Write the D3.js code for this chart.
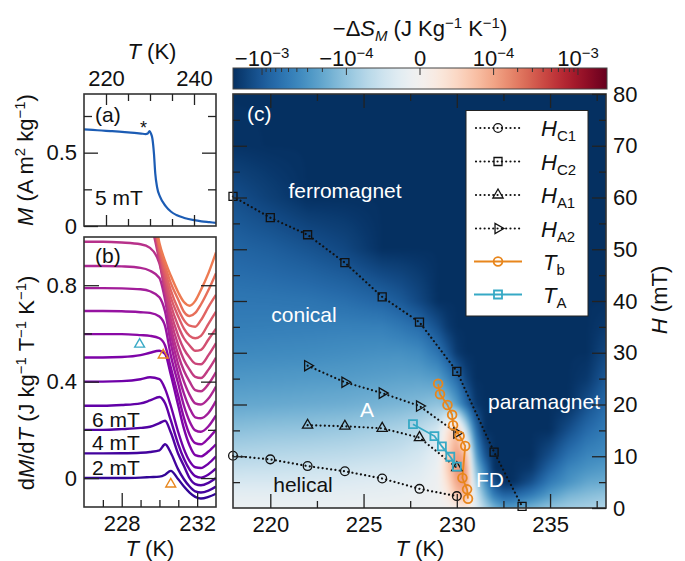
<!DOCTYPE html>
<html>
<head>
<meta charset="utf-8">
<script src="https://cdn.jsdelivr.net/npm/d3@7"></script>
<style>
  body { margin: 0; background: #fff; }
  svg { font-family: "Liberation Sans", Arial, Helvetica, sans-serif; }
</style>
</head>
<body>
<svg id="fig" width="685" height="561"></svg>
<script>
// ---------- panel (a): M(T) at 5 mT ----------
var magT = [215, 217, 219, 221, 223, 225, 227, 228, 229, 229.5, 229.9, 230.2, 230.55, 230.9, 231.2, 231.6, 232.3, 233.6, 234.8, 236, 237.8, 240, 241.7, 243.5, 245];
var magM = [0.659, 0.655, 0.651, 0.647, 0.643, 0.638, 0.633, 0.63, 0.627, 0.631, 0.647, 0.632, 0.595, 0.493, 0.357, 0.266, 0.198, 0.134, 0.097, 0.075, 0.055, 0.04, 0.032, 0.026, 0.021];

// ---------- panel (b): dM/dT curves, 2..36 mT, shown with 0.1 offsets ----------
var dmdtT = [226, 227, 228, 229, 229.5, 230, 230.3, 230.6, 231, 231.3, 231.6, 231.9, 232.2, 232.6, 233];
var dmdtFields = [2, 4, 6, 8, 10, 12, 14, 16, 18, 20, 22, 24, 26, 28, 30, 32, 34, 36];
var dmdtCurves = [
  [0, 0, 0, 0.002, 0.004, 0.006, 0.014, 0.03, -0.005, -0.035, -0.06, -0.078, -0.085, -0.078, -0.065],
  [0.1025, 0.1025, 0.103, 0.105, 0.108, 0.115, 0.14, 0.105, 0.035, -0.005, -0.035, -0.055, -0.06, -0.052, -0.035],
  [0.2, 0.2, 0.203, 0.208, 0.213, 0.228, 0.238, 0.19, 0.1, 0.05, 0.0, -0.025, -0.03, -0.02, 0.0],
  [0.3, 0.3, 0.303, 0.31, 0.322, 0.336, 0.31, 0.24, 0.14, 0.08, 0.035, 0.008, 0.002, 0.015, 0.04],
  [0.4, 0.4, 0.402, 0.41, 0.418, 0.41, 0.37, 0.3, 0.19, 0.12, 0.07, 0.045, 0.042, 0.06, 0.09],
  [0.5, 0.5, 0.502, 0.51, 0.52, 0.528, 0.515, 0.43, 0.3, 0.205, 0.135, 0.095, 0.09, 0.11, 0.14],
  [0.597, 0.597, 0.597, 0.593, 0.59, 0.58, 0.55, 0.46, 0.34, 0.25, 0.18, 0.145, 0.14, 0.165, 0.2],
  [0.693, 0.693, 0.692, 0.688, 0.685, 0.67, 0.63, 0.51, 0.39, 0.3, 0.235, 0.198, 0.192, 0.215, 0.26],
  [0.788, 0.788, 0.787, 0.783, 0.775, 0.75, 0.69, 0.56, 0.43, 0.35, 0.29, 0.252, 0.248, 0.27, 0.32],
  [0.88, 0.88, 0.878, 0.872, 0.86, 0.83, 0.74, 0.6, 0.47, 0.4, 0.345, 0.31, 0.305, 0.33, 0.38],
  [0.98, 0.98, 0.977, 0.97, 0.955, 0.89, 0.77, 0.63, 0.51, 0.445, 0.4, 0.365, 0.36, 0.39, 0.44],
  [1.075, 1.075, 1.072, 1.065, 1.05, 0.9, 0.78, 0.66, 0.55, 0.49, 0.45, 0.42, 0.415, 0.45, 0.5],
  [1.17, 1.17, 1.165, 1.15, 1.1, 0.915, 0.8, 0.69, 0.59, 0.535, 0.5, 0.475, 0.472, 0.51, 0.56],
  [1.26, 1.26, 1.25, 1.22, 1.14, 0.93, 0.82, 0.72, 0.63, 0.58, 0.55, 0.528, 0.532, 0.575, 0.62],
  [1.35, 1.35, 1.33, 1.26, 1.16, 0.94, 0.84, 0.75, 0.67, 0.62, 0.59, 0.58, 0.59, 0.64, 0.69],
  [1.44, 1.43, 1.4, 1.29, 1.17, 0.95, 0.86, 0.78, 0.7, 0.655, 0.632, 0.628, 0.655, 0.71, 0.76],
  [1.53, 1.52, 1.47, 1.32, 1.19, 0.96, 0.88, 0.81, 0.74, 0.69, 0.672, 0.685, 0.72, 0.78, 0.85],
  [1.62, 1.6, 1.53, 1.36, 1.22, 0.975, 0.9, 0.84, 0.77, 0.73, 0.715, 0.735, 0.78, 0.85, 0.936]
];
var dmdtLabelIdx = [0, 1, 2];
// transition markers in (b)
var bMarkT = [228.95, 230.2, 230.6];
var bMarkV = [0.555, 0.51, -0.025];
var bMarkC = ["#3aaac6", "#e8861c", "#e8861c"];

// ---------- panel (c): phase boundaries ----------
var hc1T = [218, 220, 222, 224, 226, 228, 230];
var hc1H = [10.1, 9.4, 8.1, 7.1, 5.7, 3.7, 2.3];
var hc2T = [218, 220, 222, 224, 226, 228, 230, 232, 233.5];
var hc2H = [60.2, 56.1, 52.8, 47.4, 40.8, 35.9, 26.4, 10.8, 0.3];
var ha1T = [222, 224, 226, 228, 230];
var ha1H = [16.0, 15.8, 15.4, 13.6, 7.8];
var ha2T = [222, 224, 226, 228, 230];
var ha2H = [27.5, 24.3, 22.2, 19.7, 14.5];
var tbT = [229.0, 229.1, 229.5, 229.75, 229.8, 230.15, 230.45, 230.3, 230.55, 230.6];
var tbH = [24.0, 22.0, 19.9, 18.0, 16.0, 13.9, 12.0, 5.8, 3.6, 1.8];
var taT = [227.65, 228.8, 229.2, 229.65, 230.0];
var taH = [16.2, 13.9, 11.9, 9.9, 8.0];

// -dS_M map, values in 1e-4 J kg^-1 K^-1, rows = heatH, cols = heatT
var heatT = [218, 220, 222, 224, 226, 227, 228, 229, 229.5, 230, 230.5, 231, 231.5, 232, 232.5, 233, 234, 235, 236, 237, 238];
var heatH = [0, 2.5, 5, 7.5, 10, 15, 20, 25, 30, 35, 40, 50, 60, 70, 80];
var heatV = [
  [-0.05, -0.05, -0.05, -0.05, -0.04, -0.04, -0.03, -0.02, 0, 0.05, 0.1, -0.1, -0.6, -1.5, -2.5, -2.5, -1.5, -1, -0.8, -0.7, -0.6],
  [-0.1, -0.1, -0.1, -0.09, -0.08, -0.07, -0.05, -0.03, 0.08, 0.5, 0.8, -0.2, -1.5, -5, -8, -8, -5, -2.5, -1.5, -1.2, -1],
  [-0.2, -0.2, -0.18, -0.16, -0.13, -0.12, -0.1, -0.03, 0.2, 1.0, 1.3, -0.5, -3, -12, -21, -21, -12, -5, -3, -2, -1.8],
  [-0.35, -0.33, -0.3, -0.27, -0.22, -0.2, -0.15, -0.05, 0.35, 1.3, 1.2, -1, -5, -21, -21, -21, -18, -8, -4, -3, -2.5],
  [-0.55, -0.5, -0.46, -0.42, -0.35, -0.3, -0.22, -0.08, 0.35, 1.2, 0.7, -2, -10, -21, -21, -21, -21, -12, -6, -4, -3.5],
  [-1.1, -1, -0.95, -0.85, -0.7, -0.6, -0.45, -0.22, 0.15, 0.6, -0.3, -6, -21, -21, -21, -21, -21, -21, -12, -7, -5],
  [-2, -1.9, -1.8, -1.7, -1.5, -1.4, -1.25, -1, -1.2, -2.5, -7, -18, -21, -21, -21, -21, -21, -21, -21, -12, -7],
  [-2.8, -2.7, -2.6, -2.5, -2.3, -2.2, -2.2, -2.5, -4, -7, -15, -21, -21, -21, -21, -21, -21, -21, -21, -18, -10],
  [-3.8, -3.7, -3.6, -3.4, -3.2, -3.2, -3.6, -6, -10, -18, -21, -21, -21, -21, -21, -21, -21, -21, -21, -21, -14],
  [-4.8, -4.7, -4.6, -4.5, -4.6, -5.5, -7, -12, -18, -21, -21, -21, -21, -21, -21, -21, -21, -21, -21, -21, -18],
  [-5.5, -5.6, -5.8, -6.5, -8, -10, -14, -21, -21, -21, -21, -21, -21, -21, -21, -21, -21, -21, -21, -21, -21],
  [-8, -9, -11, -14, -21, -21, -21, -21, -21, -21, -21, -21, -21, -21, -21, -21, -21, -21, -21, -21, -21],
  [-12, -16, -21, -21, -21, -21, -21, -21, -21, -21, -21, -21, -21, -21, -21, -21, -21, -21, -21, -21, -21],
  [-20, -21, -21, -21, -21, -21, -21, -21, -21, -21, -21, -21, -21, -21, -21, -21, -21, -21, -21, -21, -21],
  [-21, -21, -21, -21, -21, -21, -21, -21, -21, -21, -21, -21, -21, -21, -21, -21, -21, -21, -21, -21, -21]
];
// colour bar ticks, same units
var cbMajor = [-10, -1, 0, 1, 10];
var cbLabels = [["\u221210", "\u22123"], ["\u221210", "\u22124"], ["0", ""], ["10", "\u22124"], ["10", "\u22123"]];
var cbMinor = [-9, -8, -7, -6, -5, -4, -3, -2, 2, 3, 4, 5, 6, 7, 8, 9];

var ORANGE = "#e8861c", CYAN = "#36a9c5";
var svg = d3.select("#fig");

var xa = d3.scaleLinear().domain([215, 245]).range([84, 216]);
var ya = d3.scaleLinear().domain([0, 0.9]).range([226, 94]);
var xb = d3.scaleLinear().domain([226, 233]).range([84, 216]);
var yb = d3.scaleLinear().domain([-0.12, 1.0]).range([507, 237]);
var xc = d3.scaleLinear().domain([218, 238]).range([233, 606]);
var yc = d3.scaleLinear().domain([0, 80]).range([508, 94]);
var cb = d3.scaleSymlog().constant(0.18).domain([-21.2, 21.2]).range([233, 607]).clamp(true);
function cUnit(v) { return (cb(v) - 233) / 374; }

// rich text: parts = [text, {i, sup, sub}]
function rich(sel, parts) {
  var shift = 0;
  parts.forEach(function (p) {
    var o = p[1] || {};
    var target = o.sup ? -8 : o.sub ? 5 : 0;
    var t = sel.append("tspan").text(p[0]);
    if (target !== shift) { t.attr("dy", target - shift); shift = target; }
    if (o.i) t.attr("font-style", "italic");
    if (o.sup || o.sub) t.attr("font-size", "0.68em");
  });
  return sel;
}
function text(x, y, size, parts, anchor, color, rot) {
  var t = svg.append("text").attr("font-size", size).attr("fill", color || "#111")
    .attr("text-anchor", anchor || "middle");
  if (rot) t.attr("transform", "translate(" + x + "," + y + ") rotate(" + rot + ")");
  else t.attr("x", x).attr("y", y);
  return rich(t, parts);
}

function axis(gen, scale, vals, len, fmt, tr, pad) {
  var a = gen(scale).tickValues(vals).tickSize(-len).tickSizeOuter(0)
    .tickPadding(pad || 7).tickFormat(fmt || "");
  var g = svg.append("g").attr("transform", tr).call(a)
    .attr("font-size", 22).attr("font-family", null);
  g.select(".domain").remove();
  g.selectAll(".tick line").attr("stroke", "#222").attr("stroke-width", 1.3);
  g.selectAll(".tick text").attr("fill", "#111");
  return g;
}
function fmtNum(d) { return d === 0 ? "0" : String(d); }

// ================= heat map (c) =================
(function () {
  var pad = 6, w = 373, h = 414, cw = w + 2 * pad, ch = h + 2 * pad;
  var c1 = document.createElement("canvas"); c1.width = cw; c1.height = ch;
  var ctx = c1.getContext("2d"), img = ctx.createImageData(cw, ch);
  var P = heatV.map(function (r) { return r.map(cUnit); });
  var lut = d3.range(256).map(function (i) { return d3.rgb(d3.interpolateRdBu(1 - i / 255)); });
  function cell(arr, v) {
    var i = d3.bisectRight(arr, v) - 1;
    i = Math.max(0, Math.min(arr.length - 2, i));
    var f = Math.max(0, Math.min(1, (v - arr[i]) / (arr[i + 1] - arr[i])));
    return [i, f];
  }
  var cols = d3.range(cw).map(function (px) { return cell(heatT, xc.invert(233 - pad + px + 0.5)); });
  for (var py = 0; py < ch; py++) {
    var r = cell(heatH, yc.invert(94 - pad + py + 0.5)), j = r[0], fy = r[1];
    for (var px = 0; px < cw; px++) {
      var i = cols[px][0], fx = cols[px][1];
      var p = (P[j][i] * (1 - fx) + P[j][i + 1] * fx) * (1 - fy) +
              (P[j + 1][i] * (1 - fx) + P[j + 1][i + 1] * fx) * fy;
      var c = lut[Math.max(0, Math.min(255, Math.round(p * 255)))];
      var k = (py * cw + px) * 4;
      img.data[k] = c.r; img.data[k + 1] = c.g; img.data[k + 2] = c.b; img.data[k + 3] = 255;
    }
  }
  ctx.putImageData(img, 0, 0);
  var c2 = document.createElement("canvas"); c2.width = w; c2.height = h;
  var ctx2 = c2.getContext("2d");
  ctx2.filter = "blur(2px)";
  ctx2.drawImage(c1, -pad, -pad);
  svg.append("image").attr("x", 233).attr("y", 94).attr("width", w).attr("height", h)
    .attr("preserveAspectRatio", "none").attr("href", c2.toDataURL());
})();

// ================= colour bar =================
var grad = svg.append("defs").append("linearGradient").attr("id", "cbg");
d3.range(0, 101).forEach(function (i) {
  grad.append("stop").attr("offset", i + "%").attr("stop-color", d3.interpolateRdBu(1 - i / 100));
});
svg.append("rect").attr("x", 233).attr("y", 68).attr("width", 374).attr("height", 21)
  .attr("fill", "url(#cbg)").attr("stroke", "#444").attr("stroke-width", 1);
svg.append("g").selectAll("line").data(cbMajor.map(function (v) { return [v, 7]; })
  .concat(cbMinor.map(function (v) { return [v, 4]; })))
  .join("line").attr("x1", function (d) { return cb(d[0]); }).attr("x2", function (d) { return cb(d[0]); })
  .attr("y1", 68).attr("y2", function (d) { return 68 + d[1]; })
  .attr("stroke", "#333").attr("stroke-width", 1);
cbMajor.forEach(function (v, i) {
  var l = cbLabels[i];
  text(cb(v), 66, 22, l[1] ? [[l[0]], [l[1], { sup: 1 }]] : [[l[0]]]);
});
text(420, 36, 22, [["\u2212\u0394"], ["S", { i: 1 }], ["M", { i: 1, sub: 1 }], [" (J Kg"], ["\u22121", { sup: 1 }], [" K"], ["\u22121", { sup: 1 }], [")"]]);

// ================= panel (c) lines =================
var gc = svg.append("g");
var lineC = d3.line().x(function (d) { return xc(d[0]); }).y(function (d) { return yc(d[1]); });
function zipC(t, h) { return t.map(function (v, i) { return [v, h[i]]; }); }
var symCircle = d3.symbol(d3.symbolCircle, 60)(), symSquare = d3.symbol(d3.symbolSquare, 64)(),
    symTri = d3.symbol(d3.symbolTriangle, 46)();
var hSeries = [
  { t: hc1T, h: hc1H, sym: symCircle, rot: 0 },
  { t: hc2T, h: hc2H, sym: symSquare, rot: 0 },
  { t: ha1T, h: ha1H, sym: symTri, rot: 0 },
  { t: ha2T, h: ha2H, sym: symTri, rot: 90 }
];
hSeries.forEach(function (s) {
  gc.append("path").attr("d", lineC(zipC(s.t, s.h))).attr("fill", "none").attr("stroke", "#111")
    .attr("stroke-width", 2.2).attr("stroke-dasharray", "0.01 4.3").attr("stroke-linecap", "round");
});
var tSeries = [
  { t: taT, h: taH, sym: symSquare, col: CYAN },
  { t: tbT, h: tbH, sym: symCircle, col: ORANGE }
];
tSeries.forEach(function (s) {
  gc.append("path").attr("d", lineC(zipC(s.t, s.h))).attr("fill", "none").attr("stroke", s.col).attr("stroke-width", 1.8);
});
hSeries.forEach(function (s) {
  gc.selectAll(null).data(zipC(s.t, s.h)).join("path").attr("d", s.sym)
    .attr("transform", function (d) { return "translate(" + xc(d[0]) + "," + yc(d[1]) + ") rotate(" + s.rot + ")"; })
    .attr("fill", "none").attr("stroke", "#111").attr("stroke-width", 1.3);
});
tSeries.forEach(function (s) {
  gc.selectAll(null).data(zipC(s.t, s.h)).join("path").attr("d", s.sym)
    .attr("transform", function (d) { return "translate(" + xc(d[0]) + "," + yc(d[1]) + ")"; })
    .attr("fill", "none").attr("stroke", s.col).attr("stroke-width", 1.8);
});

// region labels
text(345, 198, 21, [["ferromagnet"]], "middle", "#fff");
text(304, 322, 21, [["conical"]], "middle", "#fff");
text(367, 417, 21, [["A"]], "middle", "#fff");
text(303, 492, 21, [["helical"]], "middle", "#111");
text(544, 409, 21, [["paramagnet"]], "middle", "#fff");
text(490, 487, 21, [["FD"]], "middle", "#fff");
text(247, 121, 21, [["(c)"]], "start", "#fff");

// legend
svg.append("rect").attr("x", 466).attr("y", 110.5).attr("width", 122).attr("height", 205.5)
  .attr("fill", "#fff").attr("stroke", "#222").attr("stroke-width", 1);
var legY = [128, 161.5, 195, 228.5, 261.5, 294.5];
var legSub = ["C1", "C2", "A1", "A2", "b", "A"];
hSeries.forEach(function (s, i) {
  svg.append("line").attr("x1", 476).attr("x2", 520).attr("y1", legY[i]).attr("y2", legY[i])
    .attr("stroke", "#111").attr("stroke-width", 2.2).attr("stroke-dasharray", "0.01 4.3").attr("stroke-linecap", "round");
  svg.append("path").attr("d", s.sym).attr("transform", "translate(498," + legY[i] + ") rotate(" + s.rot + ")")
    .attr("fill", "none").attr("stroke", "#111").attr("stroke-width", 1.3);
  text(541, legY[i] + 8, 22, [["H", { i: 1 }], [legSub[i], { sub: 1 }]], "start");
});
[tSeries[1], tSeries[0]].forEach(function (s, n) {
  var i = n + 4;
  svg.append("line").attr("x1", 474).attr("x2", 522).attr("y1", legY[i]).attr("y2", legY[i])
    .attr("stroke", s.col).attr("stroke-width", 1.8);
  svg.append("path").attr("d", s.sym).attr("transform", "translate(498," + legY[i] + ")")
    .attr("fill", "none").attr("stroke", s.col).attr("stroke-width", 1.8);
  text(543, legY[i] + 8, 22, [["T", { i: 1 }], [legSub[i], { sub: 1 }]], "start");
});

// axes (c)
svg.append("rect").attr("x", 233).attr("y", 94).attr("width", 373).attr("height", 414)
  .attr("fill", "none").attr("stroke", "#333").attr("stroke-width", 1.6);
axis(d3.axisBottom, xc, [220, 225, 230, 235], 14, fmtNum, "translate(0,508)", 8);
axis(d3.axisBottom, xc, [222.5, 227.5, 232.5, 237.5], 7, null, "translate(0,508)");
axis(d3.axisTop, xc, [220, 225, 230, 235], 14, null, "translate(0,94)");
axis(d3.axisTop, xc, [222.5, 227.5, 232.5, 237.5], 7, null, "translate(0,94)");
axis(d3.axisRight, yc, d3.range(0, 81, 10), 14, fmtNum, "translate(606,0)", 7);
axis(d3.axisRight, yc, d3.range(5, 80, 10), 7, null, "translate(606,0)");
axis(d3.axisLeft, yc, d3.range(10, 80, 10), 14, null, "translate(233,0)");
axis(d3.axisLeft, yc, d3.range(5, 80, 10), 7, null, "translate(233,0)");
text(420, 556, 22, [["T", { i: 1 }], [" (K)"]]);
text(667, 300, 22, [["H", { i: 1 }], [" (mT)"]], "middle", "#111", -90);

// ================= panel (a) =================
svg.append("clipPath").attr("id", "clipA").append("rect").attr("x", 84).attr("y", 94).attr("width", 132).attr("height", 132);
var lineA = d3.line().curve(d3.curveMonotoneX).x(function (d) { return xa(d[0]); }).y(function (d) { return ya(d[1]); });
svg.append("path").attr("clip-path", "url(#clipA)").attr("d", lineA(magT.map(function (t, i) { return [t, magM[i]]; })))
  .attr("fill", "none").attr("stroke", "#1c5cb4").attr("stroke-width", 2.2);
svg.append("rect").attr("x", 84).attr("y", 94).attr("width", 132).attr("height", 132)
  .attr("fill", "none").attr("stroke", "#333").attr("stroke-width", 1.6);
axis(d3.axisTop, xa, [220, 240], 11, fmtNum, "translate(0,94)", 8);
axis(d3.axisTop, xa, [225, 230, 235], 7, null, "translate(0,94)");
axis(d3.axisBottom, xa, [220, 240], 11, null, "translate(0,226)");
axis(d3.axisBottom, xa, [225, 230, 235], 7, null, "translate(0,226)");
axis(d3.axisLeft, ya, [0, 0.5], 14, fmtNum, "translate(84,0)", 7);
axis(d3.axisLeft, ya, [0.25, 0.75], 8, null, "translate(84,0)");
axis(d3.axisRight, ya, [0.5], 14, null, "translate(216,0)");
axis(d3.axisRight, ya, [0.25, 0.75], 8, null, "translate(216,0)");
text(152, 59, 22, [["T", { i: 1 }], [" (K)"]]);
text(95, 122, 21, [["(a)"]], "start");
text(143.5, 134, 18, [["*"]]);
text(95, 205, 21, [["5 mT"]], "start");
text(33, 160, 22, [["M", { i: 1 }], [" (A m"], ["2", { sup: 1 }], [" kg"], ["\u22121", { sup: 1 }], [")"]], "middle", "#111", -90);

// ================= panel (b) =================
svg.append("clipPath").attr("id", "clipB").append("rect").attr("x", 84).attr("y", 237).attr("width", 132).attr("height", 270);
var lineB = d3.line().curve(d3.curveMonotoneX).x(function (d) { return xb(d[0]); }).y(function (d) { return yb(d[1]); });
var gb = svg.append("g").attr("clip-path", "url(#clipB)");
dmdtCurves.forEach(function (row, k) {
  gb.append("path").attr("d", lineB(dmdtT.map(function (t, i) { return [t, row[i]]; })))
    .attr("fill", "none").attr("stroke", d3.interpolatePlasma(0.07 + 0.6 * k / (dmdtCurves.length - 1)))
    .attr("stroke-width", 2.4);
});
bMarkT.forEach(function (t, i) {
  svg.append("path").attr("d", d3.symbol(d3.symbolTriangle, 42)())
    .attr("transform", "translate(" + xb(t) + "," + yb(bMarkV[i]) + ")")
    .attr("fill", "none").attr("stroke", bMarkC[i]).attr("stroke-width", 1.4);
});
dmdtLabelIdx.forEach(function (k) {
  text(92, yb(dmdtCurves[k][0]) - 3, 21, [[dmdtFields[k] + " mT"]], "start");
});
svg.append("rect").attr("x", 84).attr("y", 237).attr("width", 132).attr("height", 270)
  .attr("fill", "none").attr("stroke", "#333").attr("stroke-width", 1.6);
axis(d3.axisBottom, xb, [228, 232], 14, fmtNum, "translate(0,507)", 8);
axis(d3.axisBottom, xb, [227, 229, 230, 231], 7, null, "translate(0,507)");
axis(d3.axisLeft, yb, [0, 0.4, 0.8], 15, fmtNum, "translate(84,0)", 7);
axis(d3.axisLeft, yb, [0.2, 0.6], 8, null, "translate(84,0)");
axis(d3.axisRight, yb, [0, 0.4, 0.8], 15, null, "translate(216,0)");
axis(d3.axisRight, yb, [0.2, 0.6], 8, null, "translate(216,0)");
text(95, 263, 21, [["(b)"]], "start");
text(150, 556, 22, [["T", { i: 1 }], [" (K)"]]);
text(34, 383, 22, [["d"], ["M", { i: 1 }], ["/d"], ["T", { i: 1 }], [" (J kg"], ["\u22121", { sup: 1 }], [" T"], ["\u22121", { sup: 1 }], [" K"], ["\u22121", { sup: 1 }], [")"]], "middle", "#111", -90);
</script>
</body>
</html>
